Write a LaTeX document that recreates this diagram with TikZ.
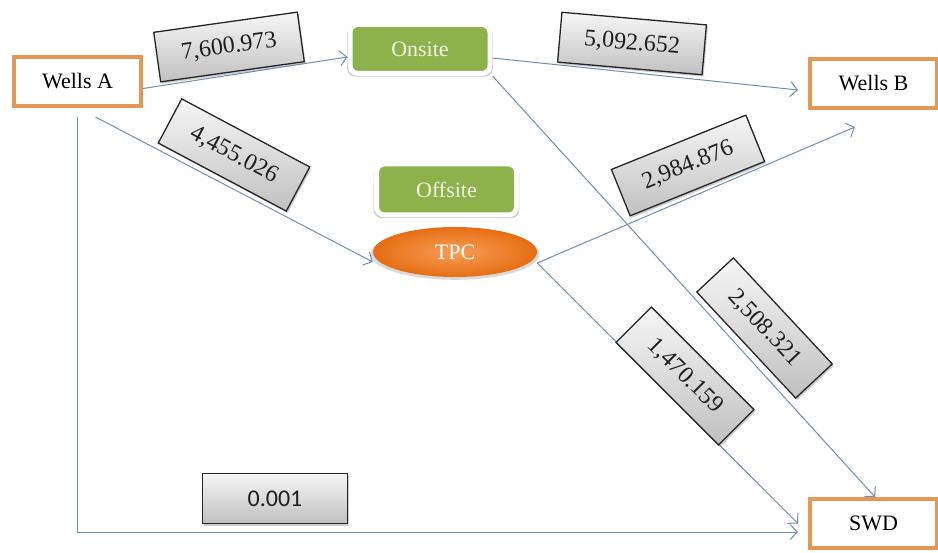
\documentclass[tikz,border=0pt]{standalone}
\usepackage{fontspec}
\setmainfont{Liberation Serif}
\newfontfamily\carlito{Carlito}
\usetikzlibrary{arrows.meta,shadows,calc,shapes.geometric}

\definecolor{wellbox}{RGB}{228,152,86}
\definecolor{leafgreen}{RGB}{141,178,76}
\definecolor{leaftext}{RGB}{242,246,228}
\definecolor{flowline}{RGB}{110,142,188}
\definecolor{tpclight}{RGB}{247,158,86}
\definecolor{tpcdark}{RGB}{230,110,20}
\definecolor{qtytop}{RGB}{246,246,246}
\definecolor{qtybottom}{RGB}{192,192,192}

\begin{document}
\begin{tikzpicture}[x=1pt,y=-1pt,
  site/.style={draw=wellbox, line width=4pt, fill=white,
    minimum width=127pt, minimum height=49pt, inner sep=0pt,
    font=\fontsize{22}{26}\selectfont},
  stage/.style={draw=white, line width=5pt, fill=leafgreen, rounded corners=8pt,
    minimum width=140pt, minimum height=49pt, inner sep=0pt, text=leaftext,
    font=\fontsize{22}{26}\selectfont,
    general shadow={fill=black, opacity=0.22, shadow scale=1.04, shadow yshift=-2pt}},
  flow/.style={draw=flowline, line width=1pt,
    -{Straight Barb[length=7pt,width=15pt]}},
  qty/.style={draw=black!85, line width=1.3pt, top color=qtytop, bottom color=qtybottom,
    minimum width=145pt, minimum height=50pt, inner sep=0pt, text=black!88,
    font=\fontsize{24}{28}\selectfont,
    drop shadow={shadow xshift=1.5pt, shadow yshift=-2pt, opacity=0.4}}
]
\useasboundingbox (0,0) rectangle (938,553);

% end points and stages
\node[site] (wa) at (77.5,81.5) {Wells A};
\node[site] (wb) at (873.5,83.5) {Wells B};
\node[site] (swd) at (873.5,523.5) {SWD};
\node[stage] (on) at (420,49) {Onsite};
\node[stage, minimum height=51pt] (off) at (446.5,189.5) {Offsite};
\node[ellipse, minimum width=164pt, minimum height=50pt, inner sep=0pt,
  inner color=tpclight, outer color=tpcdark, text=white,
  font=\fontsize{22}{26}\selectfont,
  general shadow={fill=black, opacity=0.15, shadow scale=1.03, shadow yshift=-2pt}] (tpc) at (455,252) {TPC};

% flows
\coordinate (wbin) at ($(wb.south west)+(47,17)$);
\draw[flow] ([yshift=-7pt]wa.east) -- ([yshift=-8pt]on.west);
\draw[flow] ([yshift=-9pt]on.east) -- ($(wb.west)+(-10,6.5)$);
\draw[flow] (on.south east) -- ($(swd.north)+(1.5,0)$);
\draw[flow] ($(wa.south)+(18,9)$) -- ($(tpc.west)+(0,10)$);
\draw[flow] ($(tpc.east)+(0,11)$) -- (wbin);
\draw[flow] ($(tpc.east)+(0,11)$) -- ($(swd.west)+(-10,0)$);
\draw[flow] ($(wa.south)+(0,9)$) |- ($(swd.west)+(-10,8.5)$);

% quantities on the flows
\node[qty, rotate=8] (q1) at (229,47) {7,600.973};
\node[qty, rotate=-5] (q2) at (632,43.5) {5,092.652};
\node[qty, rotate=-28] (q3) at (234,155) {4,455.026};
\node[qty, rotate=22] (q4) at (688,165.5) {2,984.876};
\node[qty, rotate=-47] (q5) at (764.5,328) {2,508.321};
\node[qty, rotate=-45] (q6) at (685,376) {1,470.159};
\node[qty, font=\carlito\fontsize{24}{28}\selectfont] (q7) at (275,498.5) {0.001};
\end{tikzpicture}
\end{document}
